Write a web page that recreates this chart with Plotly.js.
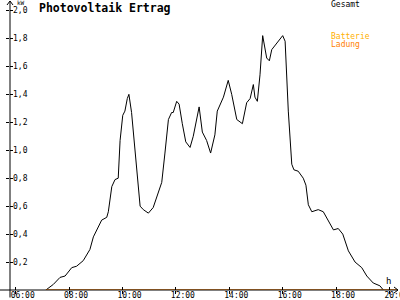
<!DOCTYPE html>
<html><head><meta charset="utf-8">
<script src="https://cdn.plot.ly/plotly-3.0.1.min.js"></script>
<style>html,body{margin:0;padding:0;background:#fff;overflow:hidden}#chart{width:400px;height:300px}</style>
</head><body><div id="chart"></div>
<script>
// ---- data (time in hours, power in kW) ----
const hours = [7.13,7.41,7.66,7.85,8.10,8.28,8.53,8.78,8.91,9.22,9.41,9.47,9.60,9.72,9.84,9.91,10.01,10.09,10.18,10.24,
  10.34,10.53,10.66,10.78,10.97,11.15,11.47,11.59,11.72,11.84,11.90,12.03,12.12,12.24,12.37,12.53,12.65,12.87,12.99,13.15,
  13.30,13.46,13.55,13.78,13.96,14.09,14.28,14.49,14.65,14.78,14.90,14.96,15.05,15.15,15.25,15.40,15.50,15.59,15.78,16.00,
  16.09,16.21,16.34,16.42,16.58,16.77,16.87,16.96,17.09,17.33,17.52,17.71,17.90,18.08,18.25,18.46,18.71,18.96,19.15,19.39,
  19.64,19.77];
const gesamt = [0,0.04,0.09,0.10,0.16,0.17,0.21,0.29,0.38,0.50,0.52,0.56,0.74,0.79,0.80,1.07,1.25,1.28,1.37,1.40,
  1.27,0.88,0.60,0.575,0.55,0.59,0.77,0.98,1.22,1.27,1.27,1.35,1.33,1.19,1.06,1.02,1.10,1.31,1.13,1.07,
  0.98,1.11,1.28,1.38,1.50,1.40,1.22,1.19,1.34,1.37,1.47,1.38,1.35,1.54,1.82,1.66,1.64,1.72,1.77,1.82,
  1.78,1.28,0.90,0.86,0.85,0.80,0.75,0.61,0.56,0.575,0.56,0.49,0.43,0.44,0.40,0.28,0.20,0.16,0.10,0.05,
  0.03,0];
const ladungHours = [7.13, 20.28];
const ladung = [0, 0];
const xTickVals = [6,8,10,12,14,16,18,20];
const xTickText = ['06:00','08:00','10:00','12:00','14:00','16:00','18:00','20:00'];
const yTickVals = [0.2,0.4,0.6,0.8,1.0,1.2,1.4,1.6,1.8,2.0];
const yTickText = ['0,2','0,4','0,6','0,8','1,0','1,2','1,4','1,6','1,8','2,0'];

// ---- geometry ----
const W=400,H=300,L=10,R=2,T=2,B=9.5;
const PW=W-L-R, PH=H-T-B;
const xp = px => (px-L)/PW;
const yp = py => (H-B-py)/PH;
const FONT = 'DejaVu Sans Mono';

const traces = [
  {x: hours, y: gesamt, type:'scatter', mode:'lines', line:{color:'#000', width:1}, hoverinfo:'skip', showlegend:false},
  {x: ladungHours, y: ladung, type:'scatter', mode:'lines', line:{color:'#ff8000', width:1.6}, hoverinfo:'skip', showlegend:false},
  {x: [], y: [], xaxis:'x2', yaxis:'y2', type:'scatter', mode:'lines', showlegend:false}
];

const ann = (text, px, py, color, size, xanchor, bold) => ({
  text: bold ? '<b>'+text+'</b>' : text, xref:'paper', yref:'paper', x: xp(px), y: yp(py),
  xanchor: xanchor||'left', yanchor:'middle', showarrow:false,
  font:{family:FONT, size:size, color:color}
});

const layout = {
  width:W, height:H, margin:{l:L, r:R, t:T, b:B, pad:0},
  paper_bgcolor:'#fff', plot_bgcolor:'#fff', showlegend:false,
  separators: ', ',
  title:{text:'<b>Photovoltaik Ertrag</b>', xref:'container', yref:'container', x:39/W, xanchor:'left', y:1-7.5/H, yanchor:'middle',
    font:{family:FONT, size:11.5, color:'#000'}},
  xaxis:{range:[5.787,20.318], showgrid:false, zeroline:false, showline:false,
    tickvals:xTickVals, ticktext:xTickText, ticks:'outside', ticklen:3, tickwidth:1, tickcolor:'#000',
    ticklabelshift:7, ticklabelstandoff:-6, ticklabeloverflow:'allow',
    tickfont:{family:FONT, size:8, color:'#000'}, fixedrange:true},
  yaxis:{range:[0, PH/140], showgrid:false, zeroline:false, showline:false,
    tickvals:yTickVals, ticktext:yTickText, ticks:'outside', ticklen:3, tickwidth:1, tickcolor:'#000',
    ticklabelposition:'inside', ticklabeloverflow:'allow', tickfont:{family:FONT, size:8, color:'#000'}, fixedrange:true},
  xaxis2:{overlaying:'x', matches:'x', anchor:'y', showgrid:false, zeroline:false, showline:false,
    tickvals:xTickVals, ticks:'inside', ticklen:3, tickwidth:1, tickcolor:'#000', showticklabels:false},
  yaxis2:{overlaying:'y', matches:'y', anchor:'x', side:'left', showgrid:false, zeroline:false, showline:false,
    tickvals:yTickVals, ticks:'inside', ticklen:3, tickwidth:1, tickcolor:'#000', showticklabels:false},
  shapes:[
    {type:'line', xref:'paper', yref:'paper', x0:0, x1:0, y0:yp(298), y1:yp(1), line:{color:'#000', width:1}},
    {type:'line', xref:'paper', yref:'paper', x0:xp(0), x1:xp(398), y0:0, y1:0, line:{color:'#000', width:1}},
    {type:'path', xref:'paper', yref:'paper', xsizemode:'pixel', ysizemode:'pixel', xanchor:0, yanchor:yp(1),
      path:'M-3,-4 L0,0 L3,-4', line:{color:'#000', width:1}},
    {type:'path', xref:'paper', yref:'paper', xsizemode:'pixel', ysizemode:'pixel', xanchor:xp(398), yanchor:0,
      path:'M-4,3 L0,0 L-4,-3', line:{color:'#000', width:1}}
  ],
  annotations:[
    ann('kW', 15, 3, '#000', 6),
    ann('Gesamt', 329, 5, '#000', 8),
    ann('Batterie', 329, 37, '#ffb000', 8),
    ann('Ladung', 329, 45, '#ff8000', 8),
    ann('h', 384, 281, '#000', 9)
  ]
};

Plotly.newPlot('chart', traces, layout, {staticPlot:true, displayModeBar:false});
</script>
</body></html>
